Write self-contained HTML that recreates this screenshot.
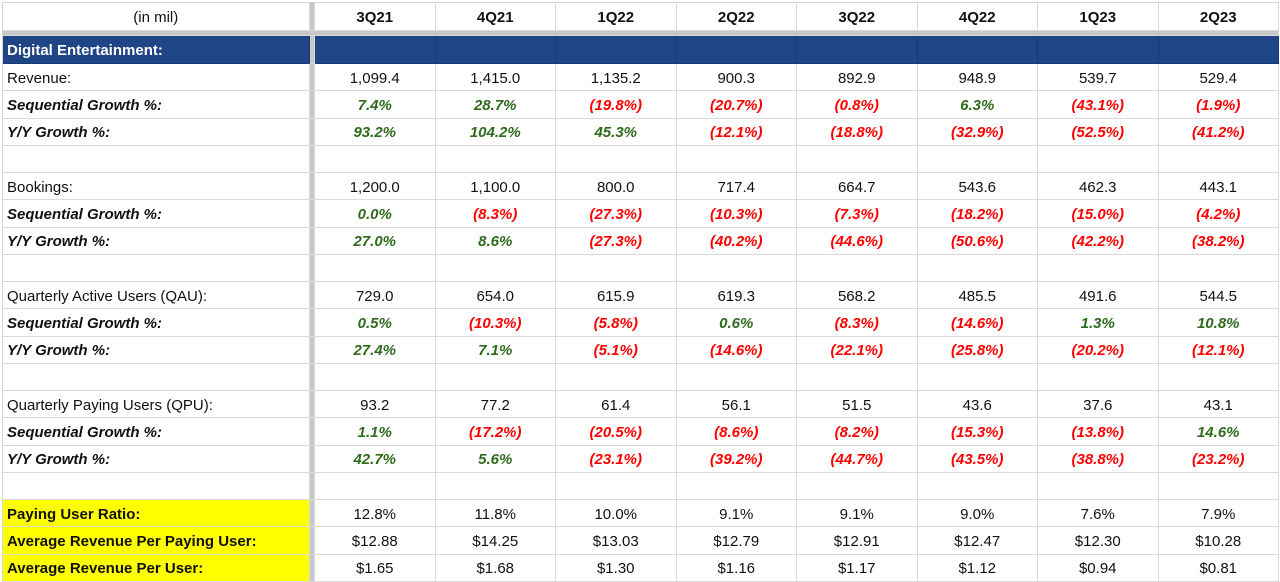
<!DOCTYPE html>
<html><head><meta charset="utf-8"><style>
*{box-sizing:border-box;margin:0;padding:0}
body{width:1280px;height:582px;background:#fff;overflow:hidden;font-family:"Liberation Sans",sans-serif;font-size:15px;color:#111}
.g{position:absolute;left:2px;top:2px;display:grid;grid-template-columns:306.5px 5.5px repeat(8,120.5px);grid-template-rows:28px 5px 28px repeat(19,27.25px);border-top:1px solid #d6d6d6;border-left:1px solid #d6d6d6}
.g>div{border-right:1px solid #dadada;border-bottom:1px solid #dadada;display:flex;align-items:center;justify-content:center;white-space:nowrap;overflow:hidden;padding-top:2px}
.g>div.l{justify-content:flex-start;padding-left:4px}
.s{background:#c8c8c8}
.sr{background:#c8c8c8;grid-column:1/11}
.b{background:#1f4586;color:#fff;font-weight:bold;border-color:#183a72!important}
.h{font-weight:bold}
.i{font-weight:bold;font-style:italic}
.gr{color:#2e6b1d;font-weight:bold;font-style:italic}
.rd{color:#ff0000;font-weight:bold;font-style:italic}
.y{background:#ffff00;font-weight:bold}
</style></head><body>
<div class="g">
<div>(in mil)</div><div class="s"></div><div class="h">3Q21</div><div class="h">4Q21</div><div class="h">1Q22</div><div class="h">2Q22</div><div class="h">3Q22</div><div class="h">4Q22</div><div class="h">1Q23</div><div class="h">2Q23</div>
<div class="sr"></div>
<div class="l b">Digital Entertainment:</div><div class="s"></div><div class="b"></div><div class="b"></div><div class="b"></div><div class="b"></div><div class="b"></div><div class="b"></div><div class="b"></div><div class="b"></div>

<div class="l">Revenue:</div><div class="s"></div><div>1,099.4</div><div>1,415.0</div><div>1,135.2</div><div>900.3</div><div>892.9</div><div>948.9</div><div>539.7</div><div>529.4</div>
<div class="l i">Sequential Growth %:</div><div class="s"></div><div class="gr">7.4%</div><div class="gr">28.7%</div><div class="rd">(19.8%)</div><div class="rd">(20.7%)</div><div class="rd">(0.8%)</div><div class="gr">6.3%</div><div class="rd">(43.1%)</div><div class="rd">(1.9%)</div>
<div class="l i">Y/Y Growth %:</div><div class="s"></div><div class="gr">93.2%</div><div class="gr">104.2%</div><div class="gr">45.3%</div><div class="rd">(12.1%)</div><div class="rd">(18.8%)</div><div class="rd">(32.9%)</div><div class="rd">(52.5%)</div><div class="rd">(41.2%)</div>
<div></div><div class="s"></div><div></div><div></div><div></div><div></div><div></div><div></div><div></div><div></div>

<div class="l">Bookings:</div><div class="s"></div><div>1,200.0</div><div>1,100.0</div><div>800.0</div><div>717.4</div><div>664.7</div><div>543.6</div><div>462.3</div><div>443.1</div>
<div class="l i">Sequential Growth %:</div><div class="s"></div><div class="gr">0.0%</div><div class="rd">(8.3%)</div><div class="rd">(27.3%)</div><div class="rd">(10.3%)</div><div class="rd">(7.3%)</div><div class="rd">(18.2%)</div><div class="rd">(15.0%)</div><div class="rd">(4.2%)</div>
<div class="l i">Y/Y Growth %:</div><div class="s"></div><div class="gr">27.0%</div><div class="gr">8.6%</div><div class="rd">(27.3%)</div><div class="rd">(40.2%)</div><div class="rd">(44.6%)</div><div class="rd">(50.6%)</div><div class="rd">(42.2%)</div><div class="rd">(38.2%)</div>
<div></div><div class="s"></div><div></div><div></div><div></div><div></div><div></div><div></div><div></div><div></div>

<div class="l">Quarterly Active Users (QAU):</div><div class="s"></div><div>729.0</div><div>654.0</div><div>615.9</div><div>619.3</div><div>568.2</div><div>485.5</div><div>491.6</div><div>544.5</div>
<div class="l i">Sequential Growth %:</div><div class="s"></div><div class="gr">0.5%</div><div class="rd">(10.3%)</div><div class="rd">(5.8%)</div><div class="gr">0.6%</div><div class="rd">(8.3%)</div><div class="rd">(14.6%)</div><div class="gr">1.3%</div><div class="gr">10.8%</div>
<div class="l i">Y/Y Growth %:</div><div class="s"></div><div class="gr">27.4%</div><div class="gr">7.1%</div><div class="rd">(5.1%)</div><div class="rd">(14.6%)</div><div class="rd">(22.1%)</div><div class="rd">(25.8%)</div><div class="rd">(20.2%)</div><div class="rd">(12.1%)</div>
<div></div><div class="s"></div><div></div><div></div><div></div><div></div><div></div><div></div><div></div><div></div>

<div class="l">Quarterly Paying Users (QPU):</div><div class="s"></div><div>93.2</div><div>77.2</div><div>61.4</div><div>56.1</div><div>51.5</div><div>43.6</div><div>37.6</div><div>43.1</div>
<div class="l i">Sequential Growth %:</div><div class="s"></div><div class="gr">1.1%</div><div class="rd">(17.2%)</div><div class="rd">(20.5%)</div><div class="rd">(8.6%)</div><div class="rd">(8.2%)</div><div class="rd">(15.3%)</div><div class="rd">(13.8%)</div><div class="gr">14.6%</div>
<div class="l i">Y/Y Growth %:</div><div class="s"></div><div class="gr">42.7%</div><div class="gr">5.6%</div><div class="rd">(23.1%)</div><div class="rd">(39.2%)</div><div class="rd">(44.7%)</div><div class="rd">(43.5%)</div><div class="rd">(38.8%)</div><div class="rd">(23.2%)</div>
<div></div><div class="s"></div><div></div><div></div><div></div><div></div><div></div><div></div><div></div><div></div>

<div class="l y">Paying User Ratio:</div><div class="s"></div><div>12.8%</div><div>11.8%</div><div>10.0%</div><div>9.1%</div><div>9.1%</div><div>9.0%</div><div>7.6%</div><div>7.9%</div>
<div class="l y">Average Revenue Per Paying User:</div><div class="s"></div><div>$12.88</div><div>$14.25</div><div>$13.03</div><div>$12.79</div><div>$12.91</div><div>$12.47</div><div>$12.30</div><div>$10.28</div>
<div class="l y">Average Revenue Per User:</div><div class="s"></div><div>$1.65</div><div>$1.68</div><div>$1.30</div><div>$1.16</div><div>$1.17</div><div>$1.12</div><div>$0.94</div><div>$0.81</div>
</div>
</body></html>
